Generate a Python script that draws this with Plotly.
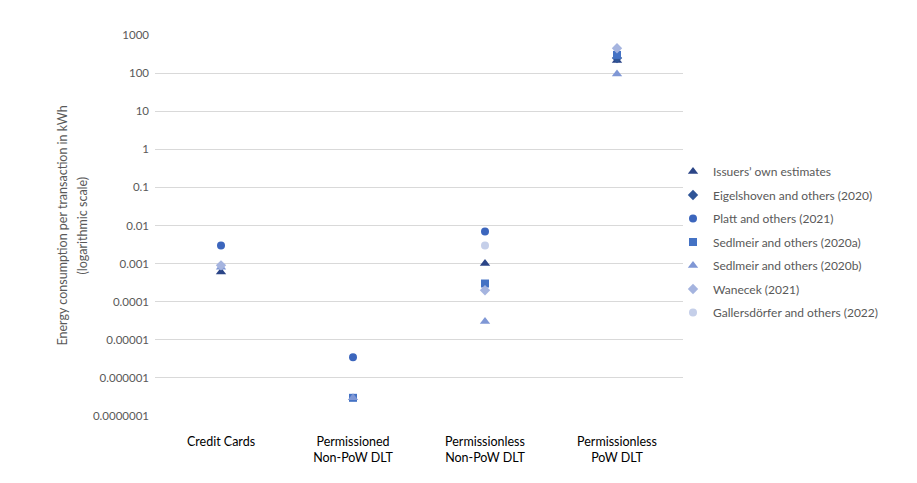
import plotly.graph_objects as go

categories = ["Credit Cards", "Permissioned<br>Non-PoW DLT", "Permissionless<br>Non-PoW DLT", "Permissionless<br>PoW DLT"]

issuers = [0.0006, None, 0.001, 215]
eigelshoven = [None, None, None, 250]
platt = [0.003, 3.5e-6, 0.007, None]
sedlmeir_a = [None, 3e-7, 0.0003, 300]
sedlmeir_b = [0.0008, 3e-7, 3e-5, 95]
wanecek = [0.0009, None, 0.0002, 450]
gallersdorfer = [None, None, 0.003, None]

series_names = ["Issuers’ own estimates", "Eigelshoven and others (2020)", "Platt and others (2021)",
                "Sedlmeir and others (2020a)", "Sedlmeir and others (2020b)", "Wanecek (2021)",
                "Gallersdörfer and others (2022)"]
series_values = [issuers, eigelshoven, platt, sedlmeir_a, sedlmeir_b, wanecek, gallersdorfer]
symbols = ["triangle-up", "diamond", "circle", "square", "triangle-up", "diamond", "circle"]
colors = ["#2B4587", "#2F5597", "#3C66BD", "#4472C4", "#7F97D5", "#A5B4DF", "#C5CFE9"]
sizes = [9, 8, 8, 8, 9, 8, 8]

tick_vals = [1e-7, 1e-6, 1e-5, 1e-4, 1e-3, 1e-2, 1e-1, 1, 10, 100, 1000]
tick_text = ["0.0000001", "0.000001", "0.00001", "0.0001", "0.001", "0.01", "0.1", "1", "10", "100", "1000"]

y_title_lines = ["Energy consumption per transaction in kWh", "(logarithmic scale)"]

FONT = "Lato"

# page body has an 8px margin: figure is offset by (8, 8)
OFF = 8
W, H = 917 - 2 * OFF, 483 - 2 * OFF
PL, PR, PT, PB = 155, 683, 35, 416  # plot area in window pixels
ml, mr, mt, mb = PL - OFF, W - (PR - OFF), PT - OFF, H - (PB - OFF)
pw, ph = PR - PL, PB - PT

fig = go.Figure()
for i, (name, vals, sym, col, sz) in enumerate(zip(series_names, series_values, symbols, colors, sizes)):
    fig.add_trace(go.Scatter(
        x=categories, y=vals, mode="markers", name=name, legendgroup=f"g{i}",
        marker=dict(symbol=sym, color=col, size=sz, line=dict(width=0)),
    ))

annotations = []
for j, (line, px) in enumerate(zip(y_title_lines, [62, 82])):
    annotations.append(dict(
        text=line, xref="paper", yref="paper", x=(px - PL) / pw, y=0.5,
        xanchor="center", yanchor="middle", textangle=-90, showarrow=False,
        font=dict(family=FONT, size=12.5, color="#595959")))

fig.update_layout(
    width=W, height=H,
    margin=dict(l=ml, r=mr, t=mt, b=mb, autoexpand=False),
    paper_bgcolor="white", plot_bgcolor="white",
    font=dict(family=FONT, size=12, color="#595959"),
    showlegend=True,
    legend=dict(x=(673 - PL) / pw, xanchor="left", y=1 - (242 - PT) / ph, yanchor="middle",
                font=dict(family=FONT, size=12, color="#595959"),
                tracegroupgap=4.5, itemwidth=30, bgcolor="rgba(0,0,0,0)"),
    xaxis=dict(type="category", categoryorder="array", categoryarray=categories,
               range=[-0.5, 3.5], showgrid=False, zeroline=False, showline=False,
               ticks="", ticklabelstandoff=16, automargin=False,
               tickfont=dict(family=FONT, size=12.5, color="#000000")),
    yaxis=dict(type="log", range=[-7, 3], tickvals=tick_vals, ticktext=tick_text,
               showgrid=True, gridcolor="#D9D9D9", gridwidth=1, zeroline=False, showline=False,
               ticks="", ticklabelstandoff=5, automargin=False,
               tickfont=dict(family=FONT, size=11.5, color="#595959")),
    annotations=annotations,
)

fig.write_html("out.html")
